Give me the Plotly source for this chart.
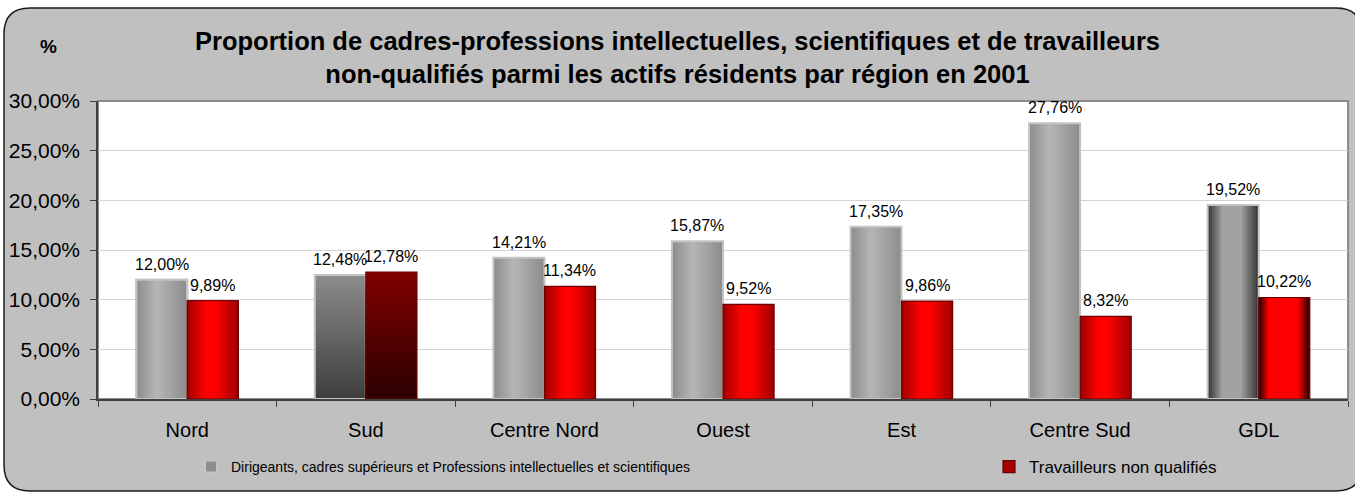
import plotly.graph_objects as go

# --- data -------------------------------------------------------------
regions = ["Nord", "Sud", "Centre Nord", "Ouest", "Est", "Centre Sud", "GDL"]
cadres = [12.00, 12.48, 14.21, 15.87, 17.35, 27.76, 19.52]
non_qualifies = [9.89, 12.78, 11.34, 9.52, 9.86, 8.32, 10.22]
y_ticks = [0, 5, 10, 15, 20, 25, 30]

serie_cadres = "Dirigeants, cadres supérieurs et Professions intellectuelles et scientifiques"
serie_nq = "Travailleurs non qualifiés"
titre = ("Proportion de cadres-professions intellectuelles, scientifiques et de travailleurs<br>"
         "non-qualifiés parmi les actifs résidents par région en 2001")

# --- styling ----------------------------------------------------------
W, H = 1355, 492
ML, MR, MT, MB = 98, 7, 101, 93
BAR_W = 0.286
N_LAYERS = 10
N_LAYERS_V = 24
# per-bar shading style: "h" cylinder, "v" vertical fade, "d" dark-edged cylinder
style_cadres = ["h", "v", "h", "h", "h", "h", "d"]
style_nq = ["h", "v", "h", "h", "h", "h", "d"]

PALETTE = {
    "grey": {"h": ("#8e8e8e", "#b8b8b8", 0.40, 1.0), "v": ("#8a8a8a", "#3c3c3c"),
             "d": ("#3a3a3a", "#a2a2a2", 0.45, 1.7), "border": ("#c4c4c4", 2)},
    "red": {"h": ("#a40000", "#ff0000", 0.45, 1.3), "v": ("#800000", "#2a0000"),
            "d": ("#3a0000", "#ff0000", 0.45, 2.6), "border": ("#6a0000", 1.2)},
}


def mix(c1, c2, t):
    t = max(0.0, min(1.0, t))
    a = [int(c1[i:i + 2], 16) for i in (1, 3, 5)]
    b = [int(c2[i:i + 2], 16) for i in (1, 3, 5)]
    return "#" + "".join(f"{round(x + (y - x) * t):02x}" for x, y in zip(a, b))


fig = go.Figure()


def add_bar(idx, value, offset, family, style, name, legend, legend_ref):
    pal = PALETTE[family]
    x = [regions[idx]]
    if style in ("h", "d"):
        edge, center, peak, ramp = pal[style]
        for k in range(N_LAYERS):
            t = k / N_LAYERS
            left = offset + BAR_W * peak * t
            right = offset + BAR_W - BAR_W * (1 - peak) * t
            fig.add_trace(go.Bar(
                x=x, y=[value], offset=left, width=right - left,
                marker=dict(color=mix(edge, center, t * ramp),
                            line=dict(width=pal["border"][1] if (legend and k == 0) else 0,
                                      color=pal["border"][0])),
                name=name, legendgroup=family, legend=legend_ref,
                showlegend=bool(legend and k == 0), hoverinfo="skip"))
    else:
        top, bottom = pal["v"]
        for k in range(N_LAYERS_V):
            t = k / N_LAYERS_V
            fig.add_trace(go.Bar(
                x=x, y=[value * (1 - t)], offset=offset, width=BAR_W,
                marker=dict(color=mix(top, bottom, t), line=dict(width=0)),
                name=name, legendgroup=family, legend=legend_ref,
                showlegend=False, hoverinfo="skip"))
    # outline on top of the shading
    fig.add_trace(go.Bar(
        x=x, y=[value], offset=offset, width=BAR_W,
        marker=dict(color="rgba(0,0,0,0)",
                    line=dict(color=pal["border"][0], width=pal["border"][1])),
        name=name, legendgroup=family, legend=legend_ref, showlegend=False,
        hovertemplate=f"{regions[idx]}: {value:.2f}%<extra></extra>"))


for i, v in enumerate(cadres):
    add_bar(i, v, -BAR_W, "grey", style_cadres[i], serie_cadres, i == 0, "legend")
for i, v in enumerate(non_qualifies):
    add_bar(i, v, 0.0, "red", style_nq[i], serie_nq, i == 0, "legend2")


def fr(v):
    return f"{v:.2f}".replace(".", ",") + "%"


# frame and label positions are given in pixels and converted to paper units
PW, PH = W - ML - MR, H - MT - MB


def px(xp):
    return (xp - ML) / PW


def py(yp):
    return (H - MB - yp) / PH


LABEL_FONT = dict(family="Liberation Sans, Arial", size=16, color="#000000")
annotations = []
for i, v in enumerate(cadres):
    annotations.append(dict(x=i - BAR_W / 2, y=v, xref="x", yref="y", text=fr(v),
                            showarrow=False, yanchor="bottom", xanchor="center",
                            yshift=5, font=LABEL_FONT))
for i, v in enumerate(non_qualifies):
    annotations.append(dict(x=i + BAR_W / 2, y=v, xref="x", yref="y", text=fr(v),
                            showarrow=False, yanchor="bottom", xanchor="center",
                            yshift=5, font=LABEL_FONT))
annotations.append(dict(x=px(48), y=py(46), xref="paper", yref="paper", text="<b>%</b>",
                        showarrow=False, xanchor="center", yanchor="middle",
                        font=dict(family="Liberation Sans, Arial", size=19, color="#000")))

L_, T_, B_, R_, RAD = 4, 8, 491, 1362, 26
frame = (f"M{px(L_)},{py(T_ + RAD)} Q{px(L_)},{py(T_)} {px(L_ + RAD)},{py(T_)} "
         f"L{px(R_ - RAD)},{py(T_)} Q{px(R_)},{py(T_)} {px(R_)},{py(T_ + RAD)} "
         f"L{px(R_)},{py(B_ - RAD)} Q{px(R_)},{py(B_)} {px(R_ - RAD)},{py(B_)} "
         f"L{px(L_ + RAD)},{py(B_)} Q{px(L_)},{py(B_)} {px(L_)},{py(B_ - RAD)} Z")

shapes = [
    dict(type="path", path=frame, xref="paper", yref="paper", layer="below",
         fillcolor="#c0c0c0", line=dict(color="#1a1a1a", width=1.5)),
    dict(type="rect", x0=0, x1=1, y0=0, y1=1, xref="paper", yref="paper", layer="below",
         fillcolor="#ffffff", line=dict(color="#8c8c8c", width=2)),
]

LEGEND_COMMON = dict(orientation="h", xanchor="left", y=py(467), yanchor="middle",
                     bgcolor="rgba(0,0,0,0)", itemwidth=30)

fig.update_layout(
    width=W, height=H,
    margin=dict(l=ML, r=MR, t=MT, b=MB),
    paper_bgcolor="#ffffff",
    plot_bgcolor="rgba(0,0,0,0)",
    barmode="overlay",
    font=dict(family="Liberation Sans, Arial", color="#000000"),
    title=dict(text=f"<b>{titre}</b>", x=0.5, xref="container", xanchor="center",
               y=1 - 50 / H, yref="container", yanchor="middle",
               font=dict(family="Liberation Sans, Arial", size=25.5, color="#000")),
    xaxis=dict(type="category", categoryorder="array", categoryarray=regions,
               range=[-0.5, len(regions) - 0.5],
               showgrid=False, showline=True, linecolor="#404040", linewidth=1.5,
               ticks="outside", tickson="boundaries", ticklen=6, tickcolor="#404040",
               ticklabelstandoff=12,
               tickfont=dict(family="Liberation Sans, Arial", size=20, color="#000")),
    yaxis=dict(range=[0, 30], tickvals=y_ticks, ticktext=[fr(v) for v in y_ticks],
               showgrid=True, gridcolor="#d4d4d4", gridwidth=1, zeroline=False,
               showline=True, linecolor="#404040", linewidth=1.5,
               ticks="outside", ticklen=6, tickcolor="#404040", ticklabelstandoff=6,
               tickfont=dict(family="Liberation Sans, Arial", size=21, color="#000")),
    legend=dict(x=px(191), font=dict(family="Liberation Sans, Arial", size=14, color="#000"),
                **LEGEND_COMMON),
    legend2=dict(x=px(989), font=dict(family="Liberation Sans, Arial", size=17, color="#000"),
                 **LEGEND_COMMON),
    annotations=annotations,
    shapes=shapes,
    hovermode="closest",
)

fig.write_html("out.html")
